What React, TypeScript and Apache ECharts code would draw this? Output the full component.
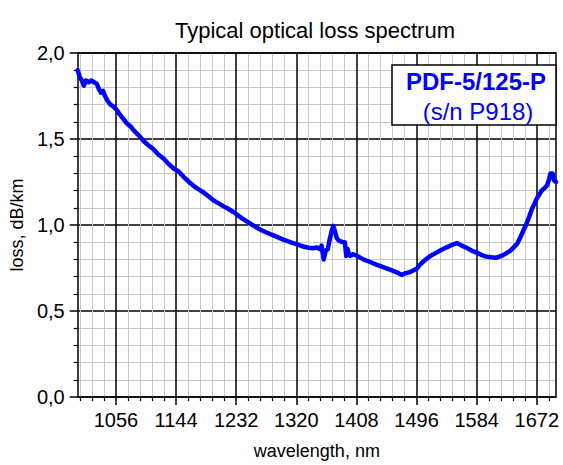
import React, { useEffect, useRef } from 'react';
import * as echarts from 'echarts';

const titleText = 'Typical optical loss spectrum';
const xAxisName = 'wavelength, nm';
const yAxisName = 'loss, dB/km';
const legendTitle = 'PDF-5/125-P';
const legendSub = '(s/n P918)';

const xMin = 1000;
const xMax = 1700;
const yMin = 0;
const yMax = 2;
const yStep = 0.5;
const majorXTicks = [1056, 1144, 1232, 1320, 1408, 1496, 1584, 1672];

const wavelengths = [
  1000, 1003, 1006, 1009, 1012, 1016, 1020, 1024, 1028, 1031, 1034, 1037, 1040, 1044, 1048, 1052,
  1057, 1062, 1067, 1072, 1077, 1082, 1087, 1092, 1096, 1103, 1111, 1118, 1126, 1133, 1140, 1148,
  1155, 1163, 1172, 1180, 1189, 1200, 1213, 1222, 1230, 1240, 1252, 1264, 1277, 1289, 1301, 1311,
  1321, 1330, 1338, 1345, 1350, 1354, 1357, 1360, 1363, 1366, 1369, 1372, 1374, 1376, 1379, 1382,
  1385, 1388, 1391, 1393, 1395, 1397, 1399, 1403, 1409, 1418, 1428, 1437, 1447, 1457, 1467, 1474,
  1480, 1486, 1491, 1496, 1501, 1508, 1516, 1523, 1530, 1540, 1548, 1555, 1562, 1569, 1577, 1584,
  1591, 1599, 1606, 1613, 1620, 1627, 1633, 1638, 1643, 1648, 1652, 1656, 1660, 1665, 1668, 1672,
  1676, 1679, 1683, 1687, 1690, 1692, 1695, 1697, 1700,
];

const losses = [
  1.9, 1.86, 1.84, 1.81, 1.84, 1.83, 1.84, 1.83, 1.82, 1.79, 1.77, 1.78, 1.75, 1.72, 1.7, 1.69,
  1.67, 1.64, 1.615, 1.59, 1.575, 1.55, 1.53, 1.51, 1.49, 1.465, 1.44, 1.41, 1.385, 1.355, 1.33, 1.31,
  1.28, 1.25, 1.22, 1.2, 1.175, 1.14, 1.11, 1.09, 1.07, 1.04, 1.01, 0.98, 0.955, 0.935, 0.915, 0.9,
  0.887, 0.875, 0.868, 0.865, 0.87, 0.86, 0.88, 0.8, 0.85, 0.86, 0.92, 0.97, 0.995, 0.97, 0.925, 0.91,
  0.905, 0.9, 0.9, 0.82, 0.86, 0.83, 0.82, 0.83, 0.82, 0.8, 0.785, 0.77, 0.755, 0.74, 0.725, 0.71,
  0.72, 0.725, 0.735, 0.745, 0.77, 0.795, 0.82, 0.835, 0.85, 0.87, 0.885, 0.895, 0.88, 0.868, 0.85, 0.84,
  0.825, 0.815, 0.812, 0.81, 0.82, 0.835, 0.85, 0.87, 0.89, 0.93, 0.965, 1.0, 1.04, 1.095, 1.12, 1.155,
  1.18, 1.2, 1.215, 1.23, 1.27, 1.3, 1.3, 1.26, 1.25,
];

const FONT = '"Liberation Sans", Arial, Helvetica, sans-serif';
const BLUE = '#0000ff';
const GRID_GRAY = '#c8c8c8';

function minorXTicks(): number[] {
  const step = (majorXTicks[1] - majorXTicks[0]) / 5;
  const out: number[] = [];
  let k = 0;
  while (majorXTicks[0] - (k + 1) * step >= xMin) k++;
  for (let v = majorXTicks[0] - k * step; v <= xMax + 1e-6; v += step) {
    const r = Math.round(v * 10) / 10;
    if (!majorXTicks.some((m) => Math.abs(m - r) < 0.01)) out.push(r);
  }
  return out;
}

export default function App() {
  const ref = useRef<HTMLDivElement>(null);

  useEffect(() => {
    document.body.style.margin = '0';
    if (!ref.current) return;
    const chart = echarts.init(ref.current, undefined, { renderer: 'svg' });
    const minors = minorXTicks();
    const data = wavelengths.map((w, i) => [w, losses[i]]);

    chart.setOption({
      animation: false,
      backgroundColor: '#ffffff',
      title: {
        text: titleText,
        left: 310,
        textAlign: 'center',
        top: 14,
        textStyle: { fontFamily: FONT, fontSize: 22, fontWeight: 'normal', color: '#000' },
      },
      grid: { left: 77, right: 7, top: 53, bottom: 64, containLabel: false },
      xAxis: [
        {
          type: 'value',
          min: xMin,
          max: xMax,
          position: 'bottom',
          z: 0,
          axisLine: { show: false },
          axisTick: { show: true, customValues: minors, length: 4, inside: false, lineStyle: { color: '#000', width: 1.2 } },
          axisLabel: { show: false },
          splitLine: { show: true, lineStyle: { color: GRID_GRAY, width: 1 } },
        },
        {
          type: 'value',
          min: xMin,
          max: xMax,
          position: 'bottom',
          z: 1,
          name: xAxisName,
          nameLocation: 'middle',
          nameGap: 45,
          nameTextStyle: { fontFamily: FONT, fontSize: 18, color: '#000' },
          axisLine: { show: true, onZero: false, lineStyle: { color: '#000', width: 1.5 } },
          axisTick: { show: true, customValues: majorXTicks, length: 8, lineStyle: { color: '#000', width: 1.5 } },
          axisLabel: {
            show: true,
            customValues: majorXTicks,
            margin: 13,
            fontFamily: FONT,
            fontSize: 20,
            color: '#000',
            formatter: (v: number) => String(v),
          },
          splitLine: { show: true, lineStyle: { color: '#000', width: 1.5 } },
        },
        {
          type: 'value',
          min: xMin,
          max: xMax,
          position: 'top',
          z: 1,
          axisLine: { show: true, onZero: false, lineStyle: { color: '#000', width: 1.5 } },
          axisTick: { show: false },
          axisLabel: { show: false },
          splitLine: { show: false },
        },
      ],
      yAxis: [
        {
          type: 'value',
          min: yMin,
          max: yMax,
          interval: yStep,
          position: 'left',
          z: 0,
          name: yAxisName,
          nameLocation: 'middle',
          nameGap: 47,
          nameRotate: 90,
          nameTextStyle: { fontFamily: FONT, fontSize: 18, color: '#000' },
          axisLine: { show: true, onZero: false, lineStyle: { color: '#000', width: 1.5 } },
          axisTick: { show: true, length: 8, lineStyle: { color: '#000', width: 1.5 } },
          minorTick: { show: true, splitNumber: 5, length: 4, lineStyle: { color: '#000', width: 1.2 } },
          axisLabel: {
            margin: 13,
            fontFamily: FONT,
            fontSize: 20,
            color: '#000',
            formatter: (v: number) => v.toFixed(1).replace('.', ','),
          },
          splitLine: { show: true, lineStyle: { color: '#000', width: 1.5 } },
          minorSplitLine: { show: true, lineStyle: { color: GRID_GRAY, width: 1 } },
        },
        {
          type: 'value',
          min: yMin,
          max: yMax,
          interval: yStep,
          position: 'right',
          z: 1,
          axisLine: { show: true, onZero: false, lineStyle: { color: '#000', width: 1.5 } },
          axisTick: { show: false },
          axisLabel: { show: false },
          splitLine: { show: false },
        },
      ],
      series: [
        {
          type: 'line',
          xAxisIndex: 1,
          yAxisIndex: 0,
          z: 3,
          data,
          showSymbol: false,
          symbol: 'none',
          smooth: false,
          lineStyle: { color: BLUE, width: 4.5, join: 'round', cap: 'round' },
          itemStyle: { color: BLUE },
        },
      ],
      graphic: [
        {
          type: 'rect',
          z: 100,
          shape: { x: 392, y: 65, width: 164, height: 60 },
          style: { fill: '#ffffff', stroke: '#000', lineWidth: 1.5 },
        },
        {
          type: 'text',
          z: 101,
          x: 476,
          y: 81,
          style: {
            text: legendTitle,
            fill: BLUE,
            font: `bold 24px ${FONT}`,
            textAlign: 'center',
            textVerticalAlign: 'middle',
          },
        },
        {
          type: 'text',
          z: 101,
          x: 478,
          y: 111,
          style: {
            text: legendSub,
            fill: BLUE,
            font: `24px ${FONT}`,
            textAlign: 'center',
            textVerticalAlign: 'middle',
          },
        },
      ],
    });

    return () => chart.dispose();
  }, []);

  return <div ref={ref} style={{ width: 563, height: 465 }} />;
}
